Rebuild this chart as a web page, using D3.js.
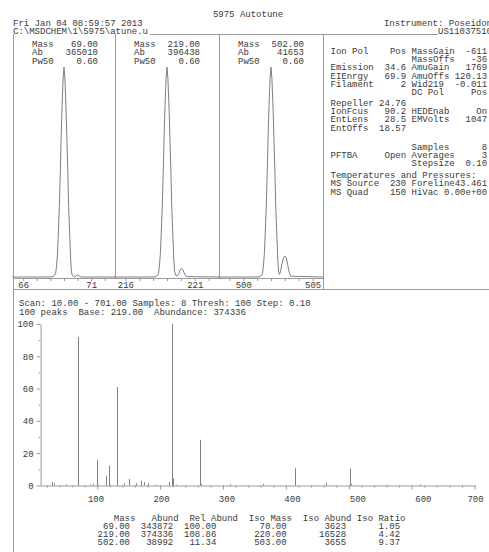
<!DOCTYPE html>
<html>
<head>
<meta charset="utf-8">
<script src="https://cdn.jsdelivr.net/npm/d3@7"></script>
<style>
body { margin: 0; background: #fff; }
svg text { font-family: "Liberation Mono", "Courier New", monospace; font-size: 9px; fill: #3a3a3a; white-space: pre; }
</style>
</head>
<body>
<svg id="chart" width="489" height="552"></svg>
<script>
// ---- header ----
var title = "5975 Autotune";
var stamp = "Fri Jan 04 08:59:57 2013";
var filePath = "C:\\MSDCHEM\\1\\5975\\atune.u";
var instrument = "Instrument: Poseidon";
var serial = "US11037510";

// ---- tune peak windows ----
var tuneMass = [69, 219, 502];
var tuneAb = [365010, 396438, 41653];
var tunePw50 = [0.60, 0.60, 0.60];
var tuneLabels = [[66, 71], [216, 221], [500, 505]];

// main peak profile: offset from mass (amu) and fraction of apex
var profOffset = [-3.8, -1.0, -0.75, -0.62, -0.55, -0.48, -0.42, -0.34, -0.27, -0.22, -0.15, -0.07, 0, 0.07, 0.15, 0.22, 0.28, 0.34, 0.42, 0.48];
var profHeight = [0, 0, 0.004, 0.015, 0.05, 0.11, 0.2, 0.34, 0.5, 0.64, 0.8, 0.94, 1, 0.94, 0.8, 0.64, 0.5, 0.34, 0.2, 0.1];

// isotope tails after the main peak, one per window
var tailOffset = [
  [0.54, 0.6, 0.75, 0.88, 1.0, 1.12, 1.25, 3.8],
  [0.54, 0.62, 0.72, 0.85, 0.95, 1.05, 1.15, 1.27, 1.4, 3.8],
  [0.52, 0.56, 0.62, 0.7, 0.8, 0.9, 1.0, 1.1, 1.2, 1.3, 1.42, 3.8]
];
var tailHeight = [
  [0.03, 0.008, 0, 0.005, 0.011, 0.005, 0, 0],
  [0.03, 0.008, 0.004, 0.015, 0.034, 0.042, 0.034, 0.014, 0.002, 0],
  [0.05, 0.02, 0.012, 0.03, 0.065, 0.092, 0.1, 0.09, 0.06, 0.025, 0.004, 0]
];

// ---- tune parameters (fixed-column text) ----
var infoLines = [
  "Ion Pol    Pos MassGain  -611",
  "               MassOffs   -36",
  "Emission  34.6 AmuGain   1769",
  "EIEnrgy   69.9 AmuOffs 120.13",
  "Filament     2 Wid219  -0.011",
  "               DC Pol     Pos",
  "Repeller 24.76",
  "IonFcus   90.2 HEDEnab     On",
  "EntLens   28.5 EMVolts   1047",
  "EntOffs  18.57",
  "               Samples      8",
  "PFTBA     Open Averages     3",
  "               Stepsize  0.10",
  "Temperatures and Pressures:",
  "MS Source  230 Foreline43.461",
  "MS Quad    150 HiVac 0.00e+00"
];

// ---- scan spectrum ----
var scanLine1 = "Scan: 10.00 - 701.00 Samples: 8 Thresh: 100 Step: 0.10";
var scanLine2 = "100 peaks  Base: 219.00  Abundance: 374336";
var specMass  = [28, 31, 44, 50, 69, 70, 88, 93, 100, 101, 114, 119, 120, 131, 132, 143, 150, 162, 169, 174, 180, 193, 214, 219, 220, 226, 264, 265, 311, 364, 414, 415, 464, 502, 503, 560, 614];
var specAbund = [2.3, 1.4, 0.4, 0.8, 91.9, 1.0, 0.5, 1.0, 15.8, 0.5, 6.0, 12.4, 0.5, 61.0, 2.2, 1.2, 4.0, 1.4, 2.9, 2.1, 1.4, 0.5, 2.2, 100, 4.5, 0.5, 28.3, 1.0, 0.8, 1.0, 10.7, 1.4, 1.6, 10.4, 1.0, 0.5, 0.8];
var yTicks = [0, 20, 40, 60, 80, 100];
var xTicks = [100, 200, 300, 400, 500, 600, 700];

// ---- result table ----
var tabHeader = "   Mass   Abund  Rel Abund  Iso Mass  Iso Abund Iso Ratio";
var tabMass = [69.00, 219.00, 502.00];
var tabAbund = [343872, 374336, 38992];
var tabRel = [100.00, 108.86, 11.34];
var tabIsoMass = [70.00, 220.00, 503.00];
var tabIsoAbund = [3623, 16528, 3655];
var tabIsoRatio = [1.05, 4.42, 9.37];

var svg = d3.select("#chart");
var frame = "#9a9a9a", trace = "#808080";

function hline(x1, x2, y) {
  svg.append("line").attr("x1", x1).attr("x2", x2).attr("y1", y).attr("y2", y)
    .attr("stroke", frame).attr("shape-rendering", "crispEdges");
}
function vline(x, y1, y2) {
  svg.append("line").attr("x1", x).attr("x2", x).attr("y1", y1).attr("y2", y2)
    .attr("stroke", frame).attr("shape-rendering", "crispEdges");
}

// header text
svg.append("text").attr("x", 248).attr("y", 16.5).attr("text-anchor", "middle").text(title);
svg.append("text").attr("x", 13).attr("y", 25.5).text(stamp);
svg.append("text").attr("x", 13).attr("y", 33.5).text(filePath);
svg.append("text").attr("x", 492).attr("y", 25.5).attr("text-anchor", "end").text(instrument);
svg.append("text").attr("x", 492).attr("y", 33.5).attr("text-anchor", "end").text(serial);

// frame lines
var boxTop = 34, axisY = 278, split = 289;
var edges = [13, 115, 219, 323];
hline(150, 438, boxTop);
vline(edges[0], boxTop, 552);
vline(edges[1], boxTop, axisY);
vline(edges[2], boxTop, axisY);
vline(edges[3], boxTop, split);
hline(edges[0], edges[3], axisY);
hline(edges[0], 489, split);

// tune windows
tuneMass.forEach(function(m, i) {
  var x = d3.scaleLinear().domain([m - 3.75, m + 3.75]).range([edges[i], edges[i + 1]]);
  var y = d3.scaleLinear().domain([0, 1]).range([277, 67]);
  var pts = profOffset.map(function(o, k) { return [o, profHeight[k]]; })
    .concat(tailOffset[i].map(function(o, k) { return [o, tailHeight[i][k]]; }));

  svg.append("path")
    .attr("d", d3.line().x(function(d) { return x(m + d[0]); }).y(function(d) { return y(d[1]); })(pts))
    .attr("fill", "none").attr("stroke", trace).attr("stroke-width", 1);

  var left = edges[i];
  var rows = [["Mass", m.toFixed(2)], ["Ab", String(tuneAb[i])], ["Pw50", tunePw50[i].toFixed(2)]];
  rows.forEach(function(r, k) {
    svg.append("text").attr("x", left + 19).attr("y", 46.5 + k * 8.5).text(r[0]);
    svg.append("text").attr("x", left + 85).attr("y", 46.5 + k * 8.5).attr("text-anchor", "end").text(r[1]);
  });

  var ax = svg.append("g").attr("transform", "translate(0," + axisY + ")")
    .call(d3.axisBottom(x).ticks(7).tickSize(3).tickSizeOuter(0)
      .tickFormat(function(d) { return tuneLabels[i].indexOf(d) >= 0 ? d : ""; }));
  ax.select(".domain").remove();
  ax.attr("font-family", null).attr("font-size", null);
  ax.selectAll("line").attr("stroke", frame);
  ax.selectAll("text").attr("dy", null).attr("y", 9.5).attr("fill", null);
});

// tune parameter block
var infoGap = [0, 0, 0, 0, 0, 0, 2, 0, 0, 0, 10.7, 0, 0, 3.3, 0, 0];
var iy = 53.7;
infoLines.forEach(function(t, k) {
  iy += infoGap[k];
  svg.append("text").attr("x", 330.5).attr("y", iy).text(t);
  iy += 8.33;
});

// scan spectrum
svg.append("text").attr("x", 19).attr("y", 306).text(scanLine1);
svg.append("text").attr("x", 19).attr("y", 315).text(scanLine2);

var sx = d3.scaleLinear().domain([10, 701]).range([40.6, 475.2]);
var sy = d3.scaleLinear().domain([0, 100]).range([485.5, 324]);
// the instrument places axis numbers on a slightly wider scale than the ticks
var sxLabel = d3.scaleLinear().domain([10, 701]).range([36.6, 489]);

svg.append("g").selectAll("line").data(specMass).enter().append("line")
  .attr("x1", function(d) { return Math.round(sx(d)) + 0.5; })
  .attr("x2", function(d) { return Math.round(sx(d)) + 0.5; })
  .attr("y1", sy(0))
  .attr("y2", function(d, k) { return sy(specAbund[k]); })
  .attr("stroke", trace);

var ya = svg.append("g").attr("transform", "translate(40.6,0)")
  .call(d3.axisLeft(sy).tickValues(d3.range(0, 101, 10)).tickSize(4).tickSizeOuter(0).tickPadding(3)
    .tickFormat(function(d) { return yTicks.indexOf(d) >= 0 ? d : ""; }));
ya.selectAll(".tick").filter(function(d) { return yTicks.indexOf(d) < 0; }).select("line").attr("x2", -2);

var xa = svg.append("g").attr("transform", "translate(0," + sy(0) + ")")
  .call(d3.axisBottom(sx).tickValues(d3.range(20, 701, 20)).tickSize(4).tickSizeOuter(0)
    .tickFormat(function(d) { return xTicks.indexOf(d) >= 0 ? d : ""; }));
xa.selectAll(".tick").filter(function(d) { return xTicks.indexOf(d) < 0; }).select("line").attr("y2", 2);
xa.selectAll("text").attr("dy", null).attr("y", 16.5)
  .attr("x", function(d) { return Math.min(sxLabel(d), 475) - sx(d); });

[ya, xa].forEach(function(a) {
  a.attr("font-family", null).attr("font-size", null);
  a.selectAll("line, path").attr("stroke", frame);
  a.selectAll("text").attr("fill", null);
});

// result table
var tx = 97.6;
svg.append("text").attr("x", tx).attr("y", 520.5).text(tabHeader);
tabMass.forEach(function(m, k) {
  var row = m.toFixed(2).padStart(6) + String(tabAbund[k]).padStart(8) + tabRel[k].toFixed(2).padStart(8) +
    tabIsoMass[k].toFixed(2).padStart(13) + String(tabIsoAbund[k]).padStart(11) + tabIsoRatio[k].toFixed(2).padStart(10);
  svg.append("text").attr("x", tx).attr("y", 528.5 + k * 8).text(row);
});
</script>
</body>
</html>
